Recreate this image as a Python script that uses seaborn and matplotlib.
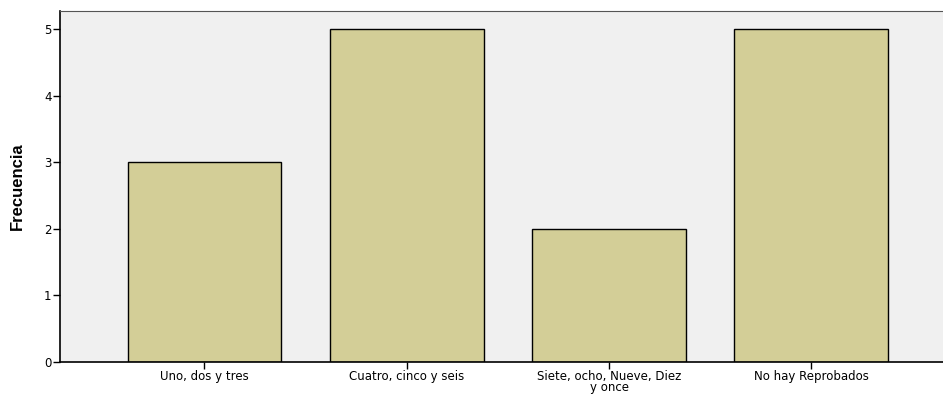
import matplotlib
matplotlib.use("Agg")
import matplotlib.pyplot as plt
import seaborn as sns
import pandas as pd

categories = ["Uno, dos y tres", "Cuatro, cinco y seis", "Siete, ocho, Nueve, Diez\ny once", "No hay Reprobados"]
values = [3, 5, 2, 5]
yticks = [0, 1, 2, 3, 4, 5]

sns.set_style("white")
plt.rcParams['font.family'] = ['DejaVu Sans']

df = pd.DataFrame({"cat": categories, "freq": values})

fig = plt.figure(figsize=(9.43, 3.94), dpi=100)
ax = fig.add_axes([60/943, 32/394, 1 - 60/943 + 0.002, (362-11)/394])
ax.set_facecolor("#f0f0f0")
sns.barplot(data=df, x="cat", y="freq", color="#d3ce97", width=0.76,
            edgecolor="black", linewidth=1.0, saturation=1, ax=ax)
ax.set_xlim(-0.714, 3.66)
ax.set_ylim(0, 5.27)
ax.set_yticks(yticks)
ax.set_ylabel("Frecuencia", fontsize=12, fontweight="bold", labelpad=14, color="black",
              family=['Liberation Sans Narrow', 'Liberation Sans', 'DejaVu Sans'])
ax.set_xlabel("")
ax.tick_params(axis="both", direction="out", length=5, width=1, labelsize=8.5,
               color="black", labelcolor="black", bottom=True, left=True)
ax.tick_params(axis="x", pad=1)
ax.tick_params(axis="y", pad=1)
for s in ["left", "bottom"]:
    ax.spines[s].set_color("black")
    ax.spines[s].set_linewidth(1.2)
ax.spines["top"].set_color("#555555")
ax.spines["top"].set_linewidth(0.8)
ax.spines["right"].set_visible(False)
for lbl in ax.get_xticklabels():
    lbl.set_linespacing(0.78)
fig.savefig("out.png", dpi=100)
